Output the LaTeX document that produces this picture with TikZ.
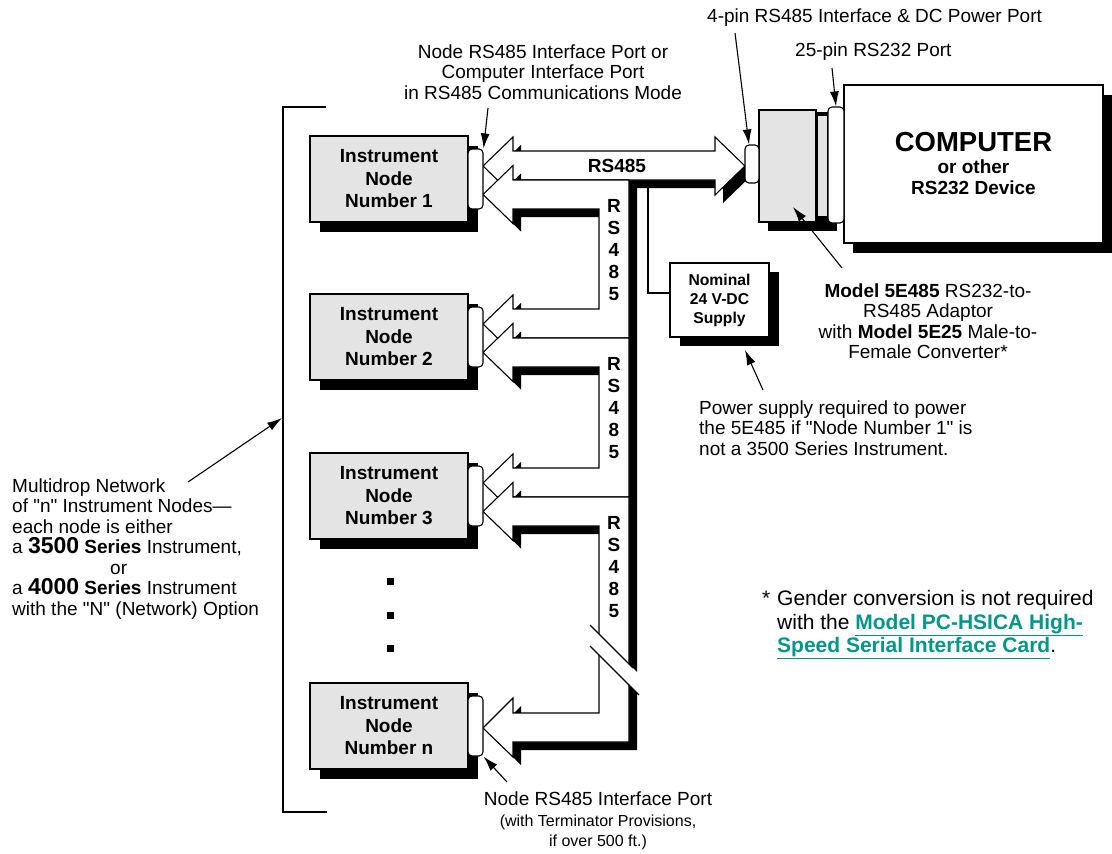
\documentclass[tikz,border=0pt]{standalone}
\usepackage{fontspec}
\setmainfont{Liberation Sans}[Ligatures=TeXOff]
\usepackage{tikz}
\usetikzlibrary{arrows.meta,shadows}

\definecolor{boxgray}{RGB}{228,228,228}
\definecolor{linkteal}{RGB}{0,150,136}
\newcommand{\lbl}{\fontsize{19}{20.5}\selectfont}
\newcommand{\cable}[1]{\fill[black,shift={(8,8)}] #1; \filldraw[fill=white,line width=1.1pt] #1;}

\tikzset{
  instr/.style={draw,line width=1.1pt,fill=boxgray,minimum width=158pt,minimum height=86pt,inner sep=0pt,align=center,
    font=\bfseries\fontsize{19}{22.5}\selectfont,drop shadow={shadow xshift=10pt,shadow yshift=-10pt,fill=black,opacity=1}},
  port/.style={draw,line width=1.1pt,fill=white,rounded corners=4pt,inner sep=0pt},
  leader/.style={line width=1.1pt,-{Latex[length=15pt,width=9pt]}},
  note/.style={font=\lbl,inner sep=0pt},
  busfont/.style={font=\bfseries\fontsize{19}{22}\selectfont,inner sep=0pt}
}

\begin{document}
\begin{tikzpicture}[x=1pt,y=-1pt]
\useasboundingbox (0,0) rectangle (1112,854);

% bracket round the network
\draw[line width=1.1pt] (326,107) -- (283,107) -- (283,812) -- (327,812);

% hollow RS485 cables
\cable{(483,166) -- (513,137) -- (513,151) -- (715,151) -- (715,137) -- (745,166) -- (715,195) -- (715,180) -- (513,180) -- (513,195) -- cycle}
\cable{(483,194.5) -- (513,165.5) -- (513,180) -- (629,180) -- (629,338) -- (513,338) -- (513,353) -- (483,324) -- (513,295) -- (513,309) -- (599,309) -- (599,209) -- (513,209) -- (513,223.5) -- cycle}
\cable{(483,352.5) -- (513,323.5) -- (513,338) -- (629,338) -- (629,497) -- (513,497) -- (513,512) -- (483,483) -- (513,454) -- (513,468) -- (599,468) -- (599,367) -- (513,367) -- (513,381.5) -- cycle}
\cable{(483,511.5) -- (513,482.5) -- (513,497) -- (629,497) -- (629,742) -- (513,742) -- (513,757) -- (483,728) -- (513,698) -- (513,713) -- (599,713) -- (599,526) -- (513,526) -- (513,540.5) -- cycle}

% break in the bus
\fill[white] (594,629) -- (641,676) -- (641,697) -- (594,650) -- cycle;
\draw[line width=1.1pt] (590,625) -- (633,668) (590,646) -- (639,695);

\node[busfont] (bustop) at (617,166) {RS485};
\foreach \y/\n in {250/a,408/b,567/c}
  \node[busfont,align=center] (bus\n) at (614,\y) {R\\S\\4\\8\\5};

% power supply
\coordinate (pwrtap) at (648,187);
\node[draw,line width=1.1pt,fill=white,minimum width=99pt,minimum height=74pt,inner sep=0pt,align=center,
  font=\bfseries\fontsize{15.7}{19}\selectfont,
  drop shadow={shadow xshift=10pt,shadow yshift=-9pt,fill=black,opacity=1}] (supply) at (719.5,300) {Nominal\\24 V-DC\\Supply};
\draw[line width=1.1pt] (pwrtap) |- ([yshift=7pt]supply.west);

% instrument nodes
\foreach \n/\y in {1/179,2/337,3/496,n/726} {
  \node[instr] (node\n) at (389,\y) {Instrument\\Node\\Number \n};
  \node[port,minimum width=15pt,minimum height=60pt] (port\n) at (475.5,\y) {};
}
\foreach \y in {581,615,648}
  \fill (386.5,\y-3.5) rectangle ++(7,7);

% adaptor and computer
\fill (768,112) rectangle (837,231);
\node[draw,line width=1.1pt,fill=boxgray,minimum width=57pt,minimum height=112pt,inner sep=0pt] (adbox) at (787.5,166) {};
\node[draw,line width=1.1pt,fill=boxgray,minimum width=11pt,minimum height=102pt,inner sep=0pt] (adplate) at (822.5,166) {};
\node[port,minimum width=14pt,minimum height=38pt] (adport) at (752,164) {};
\node[draw,line width=1.1pt,fill=white,minimum width=259pt,minimum height=158pt,inner sep=0pt,align=center,
  font=\bfseries\fontsize{19}{21}\selectfont,
  drop shadow={shadow xshift=9pt,shadow yshift=-10pt,fill=black,opacity=1}] (computer) at (973.5,164)
  {{\fontsize{27.5}{25}\selectfont COMPUTER}\\[1pt]or other\\RS232 Device};
\node[port,minimum width=16pt,minimum height=116pt] (compport) at (836,165) {};

% labels
\node[note,anchor=west] (lblfour) at (707,18) {4-pin RS485 Interface \& DC Power Port};
\node[note,anchor=west] (lbltwentyfive) at (795,52) {25-pin RS232 Port};
\node[note,align=center] (lblport) at (543,72) {Node RS485 Interface Port or\\Computer Interface Port\\in RS485 Communications Mode};
\node[note,align=center] (lbladaptor) at (928,321) {\textbf{Model 5E485} RS232-to-\\RS485 Adaptor\\with \textbf{Model 5E25} Male-to-\\Female Converter*};
\node[note,align=left,anchor=west] (lblpower) at (699,428) {Power supply required to power\\the 5E485 if "Node Number 1" is\\not a 3500 Series Instrument.};
\node[note,align=left,anchor=west] (lblmulti) at (12,549) {Multidrop Network\\of "n" Instrument Nodes—\\each node is either\\a {\fontsize{23}{20.5}\selectfont\bfseries 3500} \textbf{Series} Instrument,\\\hspace*{98pt}or\\a {\fontsize{23}{20.5}\selectfont\bfseries 4000} \textbf{Series} Instrument\\with the "N" (Network) Option};
\node[inner sep=0pt,align=left,anchor=west,font=\fontsize{21}{23.5}\selectfont] (lblgender) at (777,625)
  {\llap{*\hspace{7pt}}Gender conversion is not required\\with the {\color{linkteal}\bfseries\underline{Model PC-HSICA High-}}\\{\color{linkteal}\bfseries\underline{Speed Serial Interface Card}}.};
\node[note,align=center] (lblterm) at (598,821) {Node RS485 Interface Port\\{\fontsize{16}{20}\selectfont(with Terminator Provisions,}\\{\fontsize{16}{20}\selectfont if over 500 ft.)}};

% leaders
\coordinate (tailport) at (488,108);
\coordinate (tailfour) at (735,33);
\coordinate (tailtwentyfive) at (832,68);
\coordinate (tailadaptor) at (842,268);
\coordinate (tipadaptor) at (793,207);
\coordinate (tailpower) at (763,390);
\coordinate (tippower) at (745,350);
\coordinate (tailterm) at (507,782);
\coordinate (tailmulti) at (188,482);
\coordinate (bracketpt) at (282,418);
\draw[leader] (tailport) -- (port1.north east);
\draw[leader] (tailfour) -- ([xshift=-3pt]adport.north);
\draw[leader] (tailtwentyfive) -- (compport.north);
\draw[leader] (tailadaptor) -- (tipadaptor);
\draw[leader] (tailpower) -- (tippower);
\draw[leader] (tailterm) -- (portn.south east);
\draw[leader] (tailmulti) -- (bracketpt);
\end{tikzpicture}
\end{document}
